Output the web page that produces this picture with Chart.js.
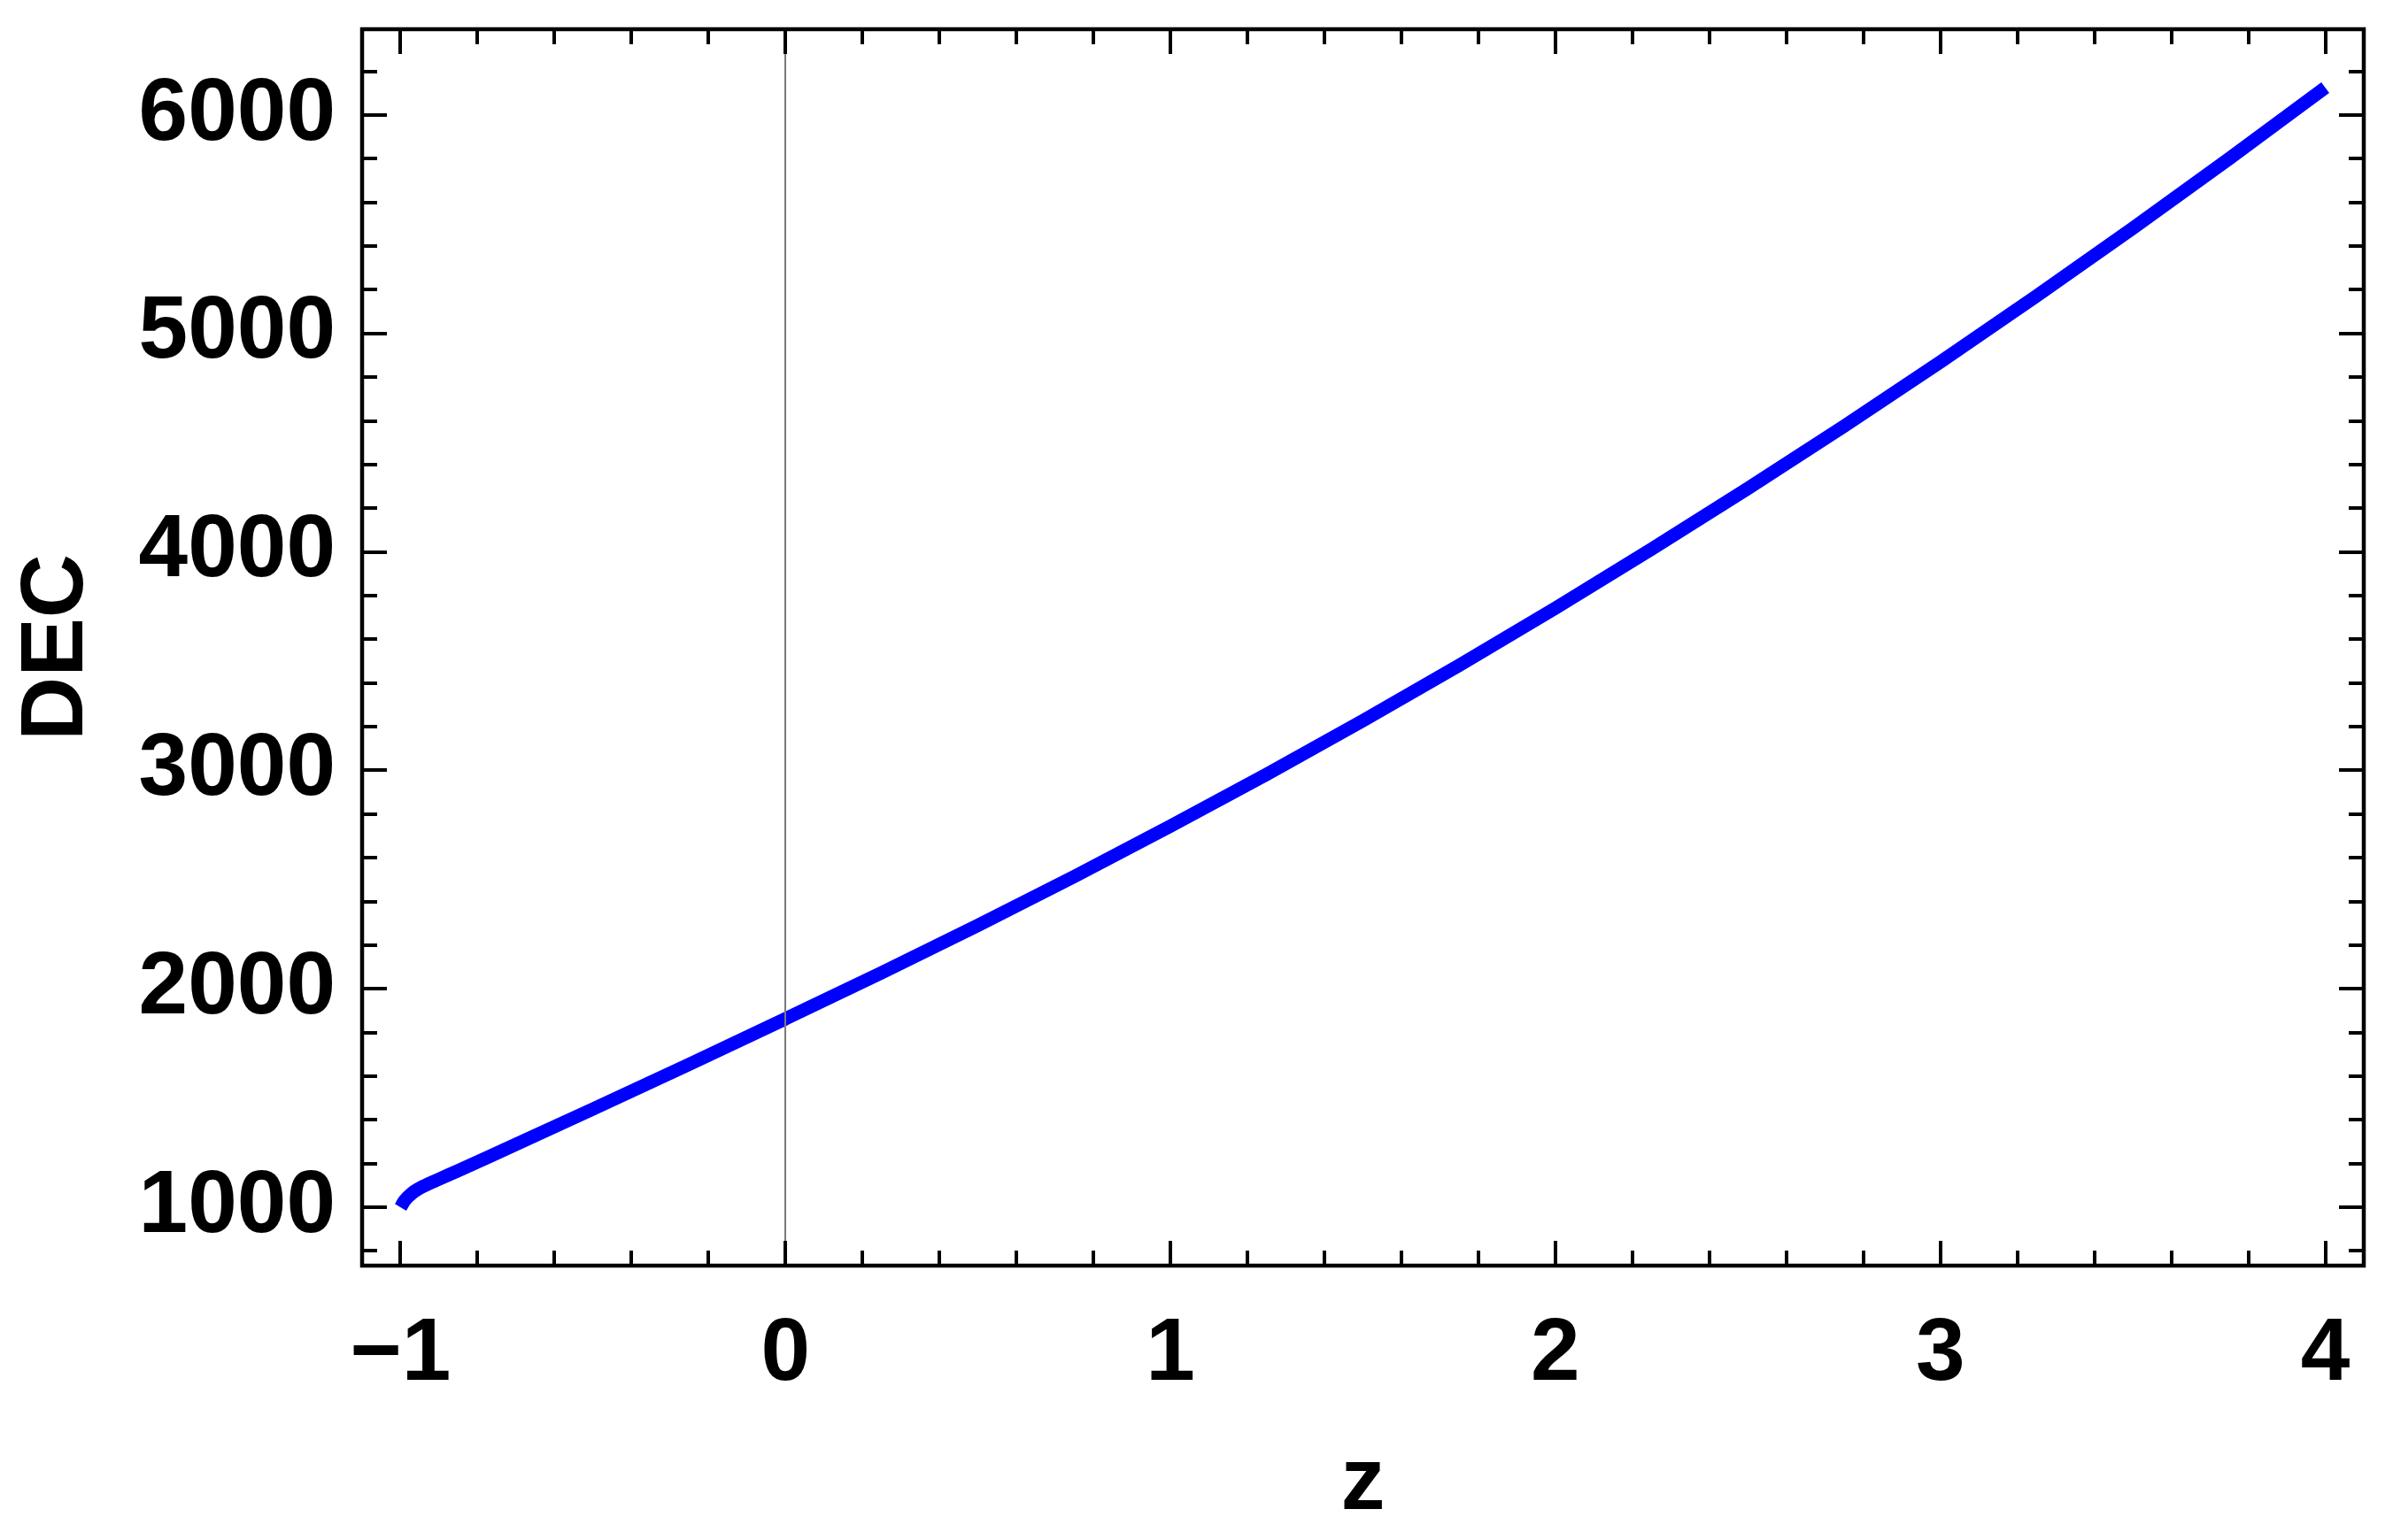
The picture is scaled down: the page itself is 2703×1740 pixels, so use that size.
<!DOCTYPE html>
<html>
<head>
<meta charset="utf-8">
<title>DEC vs z</title>
<script src="https://cdn.jsdelivr.net/npm/chart.js@4.4.1/dist/chart.umd.min.js"></script>
<style>
  html, body { margin: 0; padding: 0; background: #fff; }
  #wrap { width: 2703px; height: 1740px; }
</style>
</head>
<body>
<div id="wrap"><canvas id="dec-chart" width="2703" height="1740"></canvas></div>
<script>
/* ── Data ──────────────────────────────────────────────────────────────── */

var zValues   = [-1, -0.99, -0.97, -0.94, -0.9, -0.85, -0.75, -0.5, -0.25, 0,
                 0.25, 0.5, 0.75, 1, 1.25, 1.5, 1.75, 2,
                 2.25, 2.5, 2.75, 3, 3.25, 3.5, 3.75, 4];
var decValues = [1000, 1030, 1065, 1097, 1129, 1168, 1248, 1450, 1655, 1863,
                 2074, 2291, 2514, 2745, 2982, 3228, 3481, 3743,
                 4013, 4291, 4576, 4870, 5172, 5482, 5800, 6126];

var xTicks = [-1, 0, 1, 2, 3, 4];
var yTicks = [1000, 2000, 3000, 4000, 5000, 6000];
var xLabel = 'z';
var yLabel = 'DEC';

/* ── Helpers ────────────────────────────────────────────────────────────── */

var FONT = { family: '"Liberation Sans", Arial, Helvetica, sans-serif', size: 100, weight: 'bold' };

function _points() {
  return zValues.map(function (z, i) { return { x: z, y: decValues[i] }; });
}

// Mathematica-style frame: box plus inward ticks on all four sides
var framePlugin = {
  id: 'frame',
  afterDatasetsDraw: function (chart) {
    // the z = 0 axis, thin grey
    var ctx = chart.ctx, a = chart.chartArea;
    var x0  = Math.round(chart.scales.x.getPixelForValue(0));
    ctx.save();
    ctx.strokeStyle = '#7a7a7a';
    ctx.lineWidth = 2;
    ctx.beginPath();
    ctx.moveTo(x0, a.top);
    ctx.lineTo(x0, a.bottom);
    ctx.stroke();
    ctx.restore();
  },
  afterDraw: function (chart) {
    var ctx = chart.ctx, a = chart.chartArea;
    var sx = chart.scales.x, sy = chart.scales.y;
    var k, v, p, len;

    ctx.save();
    ctx.strokeStyle = '#000';
    ctx.lineCap = 'butt';

    ctx.lineWidth = 4;
    ctx.beginPath();
    // x ticks every 0.2, major every 1
    for (k = -5; k <= 20; k++) {
      v = k * 0.2;
      if (v < sx.min || v > sx.max) continue;
      p = Math.round(sx.getPixelForValue(v));
      len = (k % 5 === 0) ? 28 : 17;
      ctx.moveTo(p, a.bottom); ctx.lineTo(p, a.bottom - len);
      ctx.moveTo(p, a.top);    ctx.lineTo(p, a.top + len);
    }
    // y ticks every 200, major every 1000
    for (k = 3; k <= 32; k++) {
      v = k * 200;
      if (v < sy.min || v > sy.max) continue;
      p = Math.round(sy.getPixelForValue(v));
      len = (k % 5 === 0) ? 28 : 17;
      ctx.moveTo(a.left, p);  ctx.lineTo(a.left + len, p);
      ctx.moveTo(a.right, p); ctx.lineTo(a.right - len, p);
    }
    ctx.stroke();

    ctx.lineWidth = 4.5;
    ctx.strokeRect(a.left, a.top, a.right - a.left, a.bottom - a.top);
    ctx.restore();
  }
};

/* ── Chart ──────────────────────────────────────────────────────────────── */

new Chart(document.getElementById('dec-chart'), {
  type: 'line',
  data: {
    datasets: [{
      label: yLabel,
      data: _points(),
      borderColor: '#0000ff',
      borderWidth: 15,
      borderCapStyle: 'butt',
      borderJoinStyle: 'round',
      pointRadius: 0,
      fill: false,
      cubicInterpolationMode: 'monotone'
    }]
  },
  options: {
    responsive: false,
    devicePixelRatio: 1,
    animation: false,
    layout: { padding: { top: 33, right: 33, bottom: 0, left: 0 } },
    plugins: { legend: { display: false }, tooltip: { enabled: false } },
    scales: {
      x: {
        type: 'linear',
        min: -1.1,
        max: 4.1,
        grid: { display: false },
        border: { display: false },
        afterBuildTicks: function (s) { s.ticks = xTicks.map(function (v) { return { value: v }; }); },
        afterFit: function (s) { s.height = 310; s.paddingLeft = 0; s.paddingRight = 0; },
        ticks: {
          color: '#000',
          font: FONT,
          padding: 33,
          maxRotation: 0,
          callback: function (v) { return String(v).replace('-', '\u2212'); }
        },
        title: { display: true, text: xLabel, color: '#000', font: FONT, padding: { top: 0, bottom: 3 } }
      },
      y: {
        min: 733,
        max: 6393,
        grid: { display: false },
        border: { display: false },
        afterBuildTicks: function (s) { s.ticks = yTicks.map(function (v) { return { value: v }; }); },
        afterFit: function (s) { s.width = 409; s.paddingTop = 0; s.paddingBottom = 0; },
        ticks: {
          color: '#000',
          font: FONT,
          padding: 22,
          callback: function (v) { return String(v); }
        },
        title: { display: true, text: yLabel, color: '#000', font: FONT, padding: { top: 5, bottom: 0 } }
      }
    }
  },
  plugins: [framePlugin]
});
</script>
</body>
</html>
